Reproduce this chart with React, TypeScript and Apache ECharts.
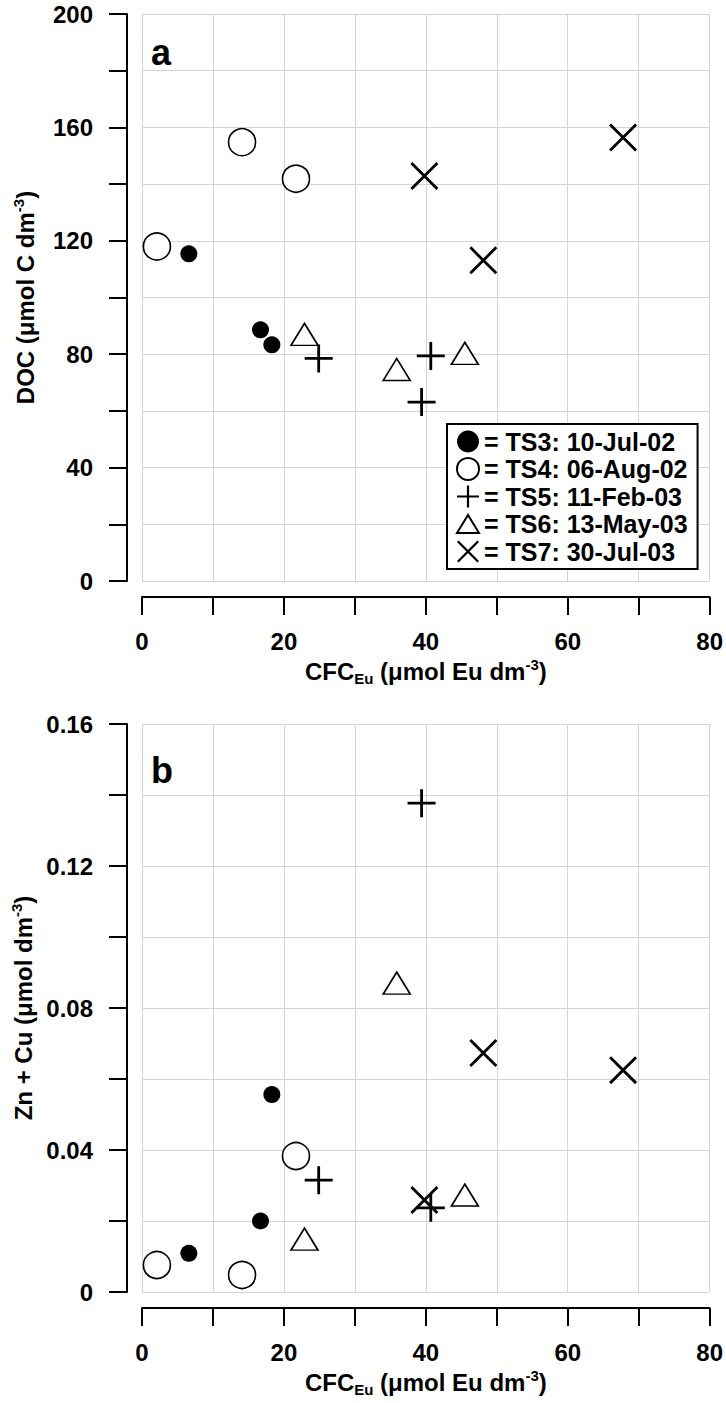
import React, { useEffect, useRef } from "react";
import * as echarts from "echarts";

// ---- Data ----
const seriesNames = [
  "TS3: 10-Jul-02",
  "TS4: 06-Aug-02",
  "TS5: 11-Feb-03",
  "TS6: 13-May-03",
  "TS7: 30-Jul-03",
];

// CFC_Eu (µmol Eu dm-3) per campaign
const ts3CFC = [6.6, 16.7, 18.3];
const ts4CFC = [2.1, 14.1, 21.7];
const ts5CFC = [24.9, 40.7, 39.4];
const ts6CFC = [22.9, 35.9, 45.5];
const ts7CFC = [67.8, 39.8, 48.1];

// DOC (µmol C dm-3)  — panel a
const ts3DOC = [115.4, 88.6, 83.3];
const ts4DOC = [118, 154.8, 141.9];
const ts5DOC = [78.5, 79.4, 63.1];
const ts6DOC = [87, 74.6, 80.3];
const ts7DOC = [156.4, 142.9, 113.1];

// Zn + Cu (µmol dm-3) — panel b
const ts3ZnCu = [0.0109, 0.02, 0.0556];
const ts4ZnCu = [0.0076, 0.0048, 0.0383];
const ts5ZnCu = [0.0315, 0.0237, 0.1377];
const ts6ZnCu = [0.0149, 0.087, 0.0273];
const ts7ZnCu = [0.0625, 0.0259, 0.0673];

const xTickLabels = ["0", "20", "40", "60", "80"];
const yTickLabelsA = ["0", "40", "80", "120", "160", "200"];
const yTickLabelsB = ["0", "0.04", "0.08", "0.12", "0.16"];

const FONT = "Liberation Sans, Arial, Helvetica, sans-serif";

const PLUS = "path://M0,12.6 L28,12.6 L28,15.4 L0,15.4 Z M12.6,0 L15.4,0 L15.4,28 L12.6,28 Z";
const CROSS = "path://M0,2 L2,0 L28,26 L26,28 Z M26,0 L28,2 L2,28 L0,26 Z";
const TRI = "path://M14,0 L28,23 L0,23 Z";

const styles = [
  { symbol: "circle", symbolSize: 17, itemStyle: { color: "#000", opacity: 1 } },
  { symbol: "circle", symbolSize: 27, itemStyle: { color: "#fff", borderColor: "#000", borderWidth: 1.6, opacity: 1 } },
  { symbol: PLUS, symbolSize: 28, itemStyle: { color: "#000", opacity: 1 } },
  { symbol: TRI, symbolSize: [27, 22], itemStyle: { color: "#fff", borderColor: "#000", borderWidth: 1.6, opacity: 1 } },
  { symbol: CROSS, symbolSize: 28, itemStyle: { color: "#000", opacity: 1 } },
];

const cfcs = [ts3CFC, ts4CFC, ts5CFC, ts6CFC, ts7CFC];
const docs = [ts3DOC, ts4DOC, ts5DOC, ts6DOC, ts7DOC];
const zncus = [ts3ZnCu, ts4ZnCu, ts5ZnCu, ts6ZnCu, ts7ZnCu];

const richName = {
  t: { fontSize: 24, fontWeight: "bold", fontFamily: FONT, color: "#000" },
  sup: { fontSize: 15, fontWeight: "bold", fontFamily: FONT, color: "#000", padding: [0, 0, 13, 0] },
  sub: { fontSize: 15, fontWeight: "bold", fontFamily: FONT, color: "#000", padding: [15, 0, 0, 0] },
};

function xAxisDef(gridIndex: number) {
  return {
    gridIndex,
    type: "value",
    min: 0,
    max: 80,
    interval: 10,
    offset: 16,
    position: "bottom",
    name: "{t|CFC}{sub|Eu}{t| (μmol Eu dm}{sup|-3}{t|)}",
    nameLocation: "middle",
    nameGap: 59,
    nameTextStyle: { rich: richName },
    axisLine: { show: true, onZero: false, lineStyle: { color: "#000", width: 2 } },
    axisTick: { show: true, inside: false, length: 18, lineStyle: { color: "#000", width: 2 } },
    axisLabel: {
      margin: 32,
      fontSize: 24,
      fontWeight: "bold",
      fontFamily: FONT,
      color: "#000",
      formatter: (v: number) => {
        const s = String(Math.round(v));
        return xTickLabels.includes(s) ? s : "";
      },
    },
    splitLine: { show: true, lineStyle: { color: "#d4d4d4", width: 1 } },
  };
}

function yAxisDef(gridIndex: number, max: number, interval: number, labels: string[], name: string) {
  return {
    gridIndex,
    type: "value",
    min: 0,
    max,
    interval,
    offset: 15,
    position: "left",
    name,
    nameLocation: "middle",
    nameGap: 88,
    nameTextStyle: { rich: richName },
    axisLine: { show: true, onZero: false, lineStyle: { color: "#000", width: 2 } },
    axisTick: { show: true, inside: false, length: 18, lineStyle: { color: "#000", width: 2 } },
    axisLabel: {
      margin: 34,
      fontSize: 24,
      fontWeight: "bold",
      fontFamily: FONT,
      color: "#000",
      formatter: (v: number) => {
        const s = String(parseFloat(v.toFixed(4)));
        return labels.includes(s) ? s : "";
      },
    },
    splitLine: { show: true, lineStyle: { color: "#d4d4d4", width: 1 } },
  };
}

export default function App() {
  const ref = useRef<HTMLDivElement>(null);

  useEffect(() => {
    document.body.style.margin = "0";
    if (!ref.current) return;
    const chart = echarts.init(ref.current, null, { renderer: "svg" });

    const series: any[] = [];
    seriesNames.forEach((name, i) => {
      series.push({
        name,
        type: "scatter",
        xAxisIndex: 0,
        yAxisIndex: 0,
        ...styles[i],
        data: cfcs[i].map((x, k) => [x, docs[i][k]]),
      });
      series.push({
        name,
        type: "scatter",
        xAxisIndex: 1,
        yAxisIndex: 1,
        ...styles[i],
        data: cfcs[i].map((x, k) => [x, zncus[i][k]]),
      });
    });

    chart.setOption({
      animation: false,
      backgroundColor: "#fff",
      grid: [
        { left: 142, top: 14, width: 569, height: 567 },
        { left: 142, top: 724, width: 569, height: 568 },
      ],
      xAxis: [xAxisDef(0), xAxisDef(1)],
      yAxis: [
        yAxisDef(0, 200, 20, yTickLabelsA, "{t|DOC (μmol C dm}{sup|-3}{t|)}"),
        yAxisDef(1, 0.16, 0.02, yTickLabelsB, "{t|Zn + Cu (μmol dm}{sup|-3}{t|)}"),
      ],
      legend: {
        data: seriesNames,
        orient: "vertical",
        left: 447,
        top: 424,
        padding: [5, 10, 5, 9],
        itemGap: 2.5,
        itemWidth: 22,
        itemHeight: 22,
        backgroundColor: "#fff",
        borderColor: "#000",
        borderWidth: 2,
        borderRadius: 0,
        formatter: "= {name}",
        textStyle: { fontSize: 25, fontWeight: "bold", fontFamily: FONT, color: "#000", lineHeight: 22 },
      },
      graphic: [
        { type: "text", x: 151, y: 52, style: { text: "a", font: `bold 36px ${FONT}`, fill: "#000", textVerticalAlign: "middle" } },
        { type: "text", x: 151, y: 770, style: { text: "b", font: `bold 36px ${FONT}`, fill: "#000", textVerticalAlign: "middle" } },
      ],
      series,
    });

    return () => chart.dispose();
  }, []);

  return <div ref={ref} style={{ width: 726, height: 1403 }} />;
}
